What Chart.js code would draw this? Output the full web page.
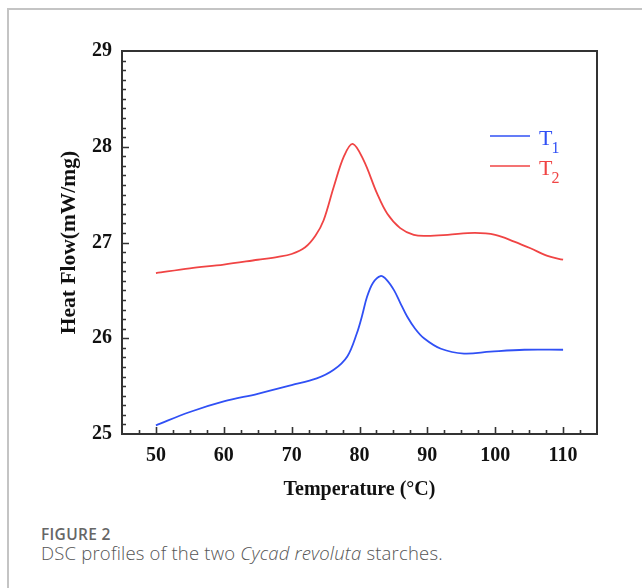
<!DOCTYPE html>
<html>
<head>
<meta charset="utf-8">
<script src="https://cdn.jsdelivr.net/npm/chart.js@4"></script>
<style>
  html, body { margin: 0; padding: 0; background: #fff; }
  body { width: 642px; height: 588px; position: relative; overflow: hidden; }
  #frame { position: absolute; left: 7px; top: 8px; width: 700px; height: 700px;
           border-left: 2px solid #c4c4c4; border-top: 2px solid #c4c4c4; }
  #wrap { position: absolute; left: 0; top: 0; width: 642px; height: 520px; }
  #cap1 { position: absolute; left: 41px; top: 524px; font-family: "Open Sans", sans-serif;
          font-size: 15.5px; font-weight: 600; color: #666; letter-spacing: 0.3px; line-height: 20px; }
  #cap2 { position: absolute; left: 41px; top: 542px; font-family: "Open Sans", sans-serif;
          font-size: 18.5px; font-weight: 300; color: #555; letter-spacing: 0.2px; line-height: 22px; }
</style>
</head>
<body>
<div id="frame"></div>
<div id="wrap"><canvas id="c" width="642" height="520"></canvas></div>
<div id="cap1">FIGURE 2</div>
<div id="cap2">DSC profiles of the two <i>Cycad revoluta</i> starches.</div>
<script>
// ---- data ----
const seriesNames = ["T1", "T2"];
const t1Temp = [50, 55, 60, 65, 70, 73.7, 76.2, 78.2, 79.6, 80.4, 81.1, 82.0, 83.1, 84.0, 85.1, 86.0, 87.0, 88.2, 89.5, 92.0, 95.4, 99.3, 104.3, 110];
const t1Flow = [25.09, 25.23, 25.34, 25.42, 25.51, 25.58, 25.67, 25.81, 26.05, 26.24, 26.43, 26.58, 26.65, 26.61, 26.50, 26.37, 26.23, 26.10, 26.00, 25.89, 25.84, 25.86, 25.88, 25.88];
const t2Temp = [50, 55, 60, 65, 68, 70, 72, 73.5, 74.7, 76.2, 77.7, 79.0, 80.6, 82.6, 84.1, 86.0, 88.0, 90.0, 93, 97, 100, 102.8, 105.2, 107.7, 110];
const t2Flow = [26.68, 26.73, 26.77, 26.82, 26.85, 26.88, 26.95, 27.07, 27.23, 27.58, 27.90, 28.03, 27.86, 27.51, 27.30, 27.15, 27.08, 27.07, 27.08, 27.10, 27.08, 27.01, 26.94, 26.86, 26.82];
const xTickLabels = [50, 60, 70, 80, 90, 100, 110];
const yTickLabels = [25, 26, 27, 28, 29];

const BLUE = "#3050f5";
const RED = "#f04444";
const SERIF = "'Liberation Serif', 'Times New Roman', serif";

function pts(xs, ys) { return xs.map((x, i) => ({ x: x, y: ys[i] })); }

const framePlugin = {
  id: "frameTicks",
  afterDatasetsDraw(chart) {
    const ctx = chart.ctx, a = chart.chartArea;
    const xs = chart.scales.x, ys = chart.scales.y;
    ctx.save();
    ctx.strokeStyle = "#333";
    ctx.lineWidth = 1.6;
    ctx.beginPath();
    for (let v = xs.min + 2.5; v < xs.max; v += 2.5) {
      const px = Math.round(xs.getPixelForValue(v)) + 0.5;
      const major = Math.abs((v - 50) % 10) < 1e-6;
      ctx.moveTo(px, a.bottom);
      ctx.lineTo(px, a.bottom - (major ? 7 : 4));
    }
    for (let i = 1; i < 40; i++) {
      const v = ys.min + i * 0.1;
      const py = Math.round(ys.getPixelForValue(v)) + 0.5;
      const major = i % 10 === 0;
      ctx.moveTo(a.left, py);
      ctx.lineTo(a.left + (major ? 7 : 4), py);
    }
    ctx.stroke();
    ctx.lineWidth = 2;
    ctx.strokeStyle = "#333";
    ctx.strokeRect(a.left, a.top, a.right - a.left, a.bottom - a.top);
    const items = [
      { name: seriesNames[0], color: BLUE, y: 136 },
      { name: seriesNames[1], color: RED, y: 166 }
    ];
    items.forEach(it => {
      ctx.strokeStyle = it.color;
      ctx.lineWidth = 1.6;
      ctx.beginPath();
      ctx.moveTo(490, it.y);
      ctx.lineTo(530, it.y);
      ctx.stroke();
      ctx.fillStyle = it.color;
      ctx.textBaseline = "alphabetic";
      ctx.textAlign = "left";
      ctx.font = "22px " + SERIF;
      ctx.fillText(it.name.charAt(0), 539, it.y + 9);
      const w = ctx.measureText(it.name.charAt(0)).width;
      ctx.font = "16px " + SERIF;
      ctx.fillText(it.name.slice(1), 538 + w, it.y + 17);
    });
    ctx.restore();
  }
};

new Chart(document.getElementById("c"), {
  type: "line",
  data: {
    datasets: [
      { label: seriesNames[0], data: pts(t1Temp, t1Flow), borderColor: BLUE, borderWidth: 1.8,
        pointRadius: 0, fill: false, tension: 0.35 },
      { label: seriesNames[1], data: pts(t2Temp, t2Flow), borderColor: RED, borderWidth: 1.8,
        pointRadius: 0, fill: false, tension: 0.35 }
    ]
  },
  options: {
    responsive: false,
    animation: false,
    layout: { padding: { left: 0, top: 51, right: 45, bottom: 0 } },
    plugins: { legend: { display: false }, tooltip: { enabled: false } },
    scales: {
      x: {
        type: "linear", min: 45, max: 115,
        afterBuildTicks: s => { s.ticks = xTickLabels.map(v => ({ value: v })); },
        afterFit: s => { s.height = 86; },
        grid: { display: false, drawTicks: false },
        border: { display: false },
        ticks: { padding: 10, color: "#111", font: { family: SERIF, size: 20, weight: "bold" }, maxRotation: 0 },
        title: { display: true, text: "Temperature (\u00B0C)", color: "#111",
                 font: { family: SERIF, size: 20, weight: "bold" }, padding: { bottom: 18, top: 0 } }
      },
      y: {
        type: "linear", min: 25, max: 29,
        afterBuildTicks: s => { s.ticks = yTickLabels.map(v => ({ value: v })); },
        afterFit: s => { s.width = 122; },
        grid: { display: false, drawTicks: false },
        border: { display: false },
        ticks: { padding: 10, color: "#111", font: { family: SERIF, size: 20, weight: "bold" } },
        title: { display: true, text: "Heat Flow(mW/mg)", color: "#111",
                 font: { family: SERIF, size: 21.5, weight: "bold" }, padding: { top: 57, bottom: 0 } }
      }
    }
  },
  plugins: [framePlugin]
});
</script>
</body>
</html>
